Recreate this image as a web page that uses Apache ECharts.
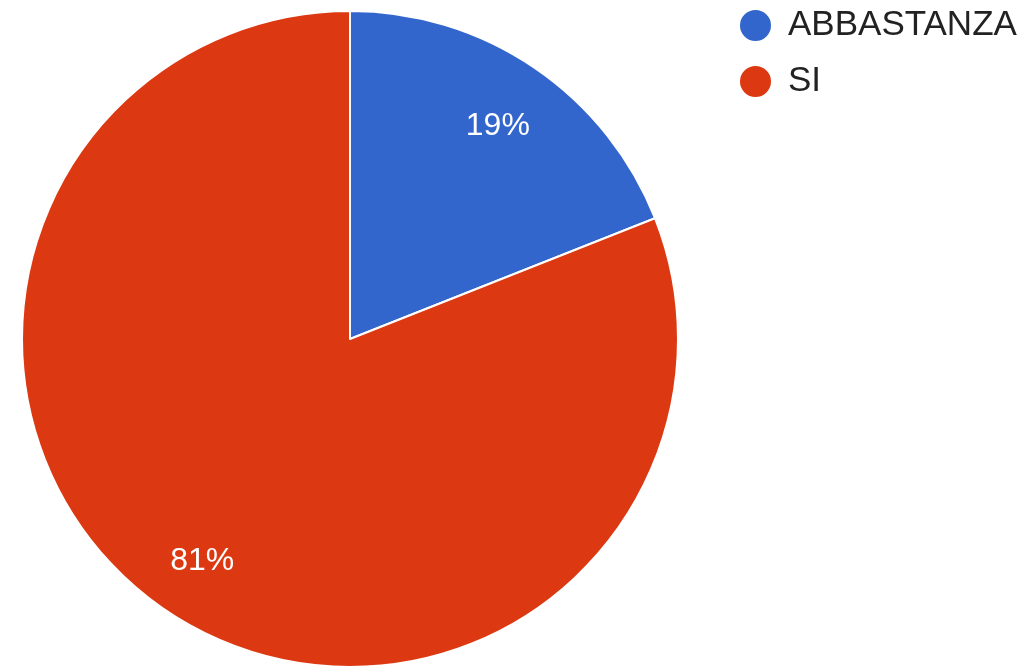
<!DOCTYPE html>
<html>
<head>
<meta charset="utf-8">
<script src="https://cdn.jsdelivr.net/npm/echarts@6/dist/echarts.min.js"></script>
<style>
  html, body { margin: 0; padding: 0; background: #fff; }
  #main { width: 1024px; height: 671px; }
</style>
</head>
<body>
<div id="main"></div>
<script>
var categories = ['ABBASTANZA', 'SI'];
var values = [19, 81];
var colors = ['#3366cc', '#dc3912'];

var myChart = echarts.init(document.getElementById('main'));

var pieData = [];
for (let i = 0; i < categories.length; i++) {
  pieData.push({ name: categories[i], value: values[i], itemStyle: { color: colors[i] } });
}

// second see-through ring only carries the % labels further out
var labelData = [];
for (let i = 0; i < categories.length; i++) {
  labelData.push({ name: categories[i], value: values[i] });
}

var option = {
  animation: false,
  legend: {
    orient: 'vertical',
    left: 738,
    top: 8,
    padding: 0,
    icon: 'circle',
    itemWidth: 33,
    itemHeight: 33,
    itemGap: 21,
    data: categories,
    textStyle: {
      fontFamily: 'Liberation Sans, Arial, sans-serif',
      fontSize: 35,
      lineHeight: 34,
      color: '#222',
      padding: [0, 0, 0, 11]
    }
  },
  series: [
    {
      type: 'pie',
      center: [350, 339],
      radius: [0, 328],
      startAngle: 90,
      clockwise: true,
      label: { show: false },
      labelLine: { show: false },
      emphasis: { disabled: true },
      itemStyle: { borderColor: '#fff', borderWidth: 2 },
      data: pieData
    },
    {
      type: 'pie',
      center: [350, 339],
      radius: [192, 328],
      startAngle: 90,
      clockwise: true,
      silent: true,
      emphasis: { disabled: true },
      itemStyle: { color: 'rgba(0,0,0,0)', borderWidth: 0 },
      label: {
        show: true,
        position: 'inside',
        formatter: '{c}%',
        color: '#fff',
        fontFamily: 'Liberation Sans, Arial, sans-serif',
        fontSize: 32,
        offset: [0, 5]
      },
      labelLine: { show: false },
      data: labelData
    }
  ]
};

myChart.setOption(option);
</script>
</body>
</html>
